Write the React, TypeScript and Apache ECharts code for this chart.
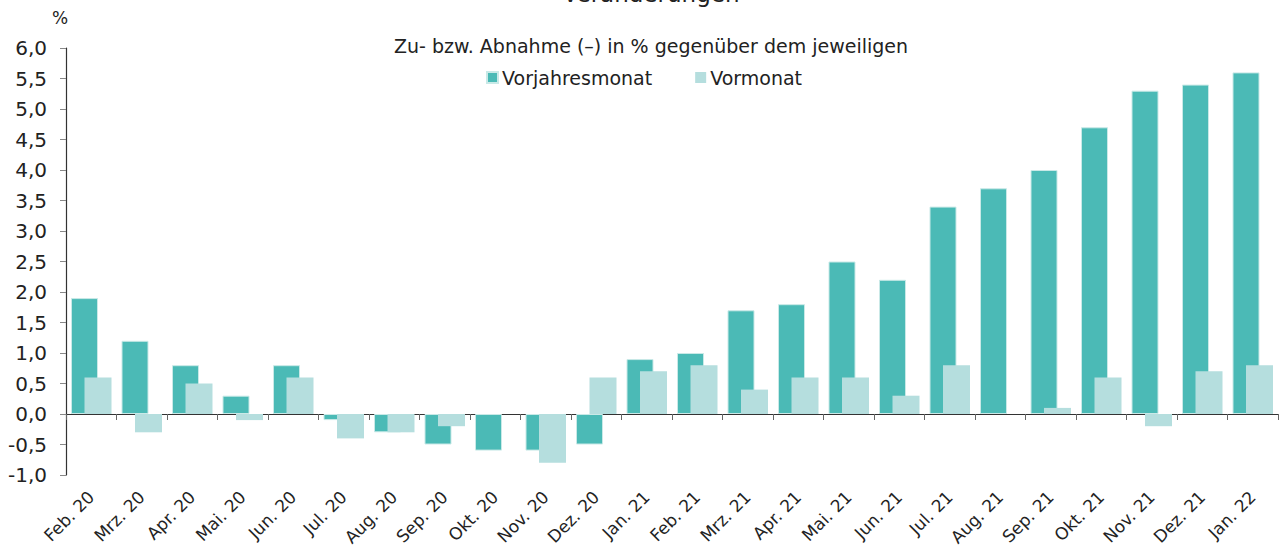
import React, { useEffect, useRef } from "react";
import * as echarts from "echarts";

const categories = [
  "Feb. 20", "Mrz. 20", "Apr. 20", "Mai. 20", "Jun. 20", "Jul. 20", "Aug. 20", "Sep. 20",
  "Okt. 20", "Nov. 20", "Dez. 20", "Jan. 21", "Feb. 21", "Mrz. 21", "Apr. 21", "Mai. 21",
  "Jun. 21", "Jul. 21", "Aug. 21", "Sep. 21", "Okt. 21", "Nov. 21", "Dez. 21", "Jan. 22",
];
const vorjahresmonat = [
  1.9, 1.2, 0.8, 0.3, 0.8, -0.1, -0.3, -0.5, -0.6, -0.6, -0.5, 0.9,
  1.0, 1.7, 1.8, 2.5, 2.2, 3.4, 3.7, 4.0, 4.7, 5.3, 5.4, 5.6,
];
const vormonat = [
  0.6, -0.3, 0.5, -0.1, 0.6, -0.4, -0.3, -0.2, 0.0, -0.8, 0.6, 0.7,
  0.8, 0.4, 0.6, 0.6, 0.3, 0.8, 0.0, 0.1, 0.6, -0.2, 0.7, 0.8,
];
const seriesNames = ["Vorjahresmonat", "Vormonat"];
const title = "Veränderungen";
const subtitle = "Zu- bzw. Abnahme (–) in % gegenüber dem jeweiligen";

const FONT = "'DejaVu Sans', 'Liberation Sans', Arial, sans-serif";
const TXT = "#222222";

export default function App() {
  const ref = useRef<HTMLDivElement>(null);
  useEffect(() => {
    if (!ref.current) return;
    const chart = echarts.init(ref.current, undefined, { renderer: "svg" });
    chart.setOption({
      animation: false,
      textStyle: { fontFamily: FONT },
      grid: { left: 66, right: 4, top: 48, bottom: 73, containLabel: false, outerBoundsMode: "none" },
      graphic: [
        {
          type: "text",
          x: 651,
          y: -6,
          style: {
            text: title,
            font: `23px ${FONT}`,
            fill: TXT,
            textAlign: "center",
            textVerticalAlign: "middle",
          },
        },
        {
          type: "text",
          x: 651,
          y: 46,
          style: {
            text: subtitle,
            font: `19px ${FONT}`,
            fill: TXT,
            textAlign: "center",
            textVerticalAlign: "middle",
          },
        },
        {
          type: "text",
          x: 60,
          y: 18,
          style: {
            text: "%",
            font: `17px ${FONT}`,
            fill: TXT,
            textAlign: "center",
            textVerticalAlign: "middle",
          },
        },
      ],
      legend: {
        left: 486,
        top: 68,
        padding: 0,
        itemWidth: 11,
        itemHeight: 11,
        itemGap: 43,
        icon: "rect",
        textStyle: { fontSize: 19, color: TXT, fontFamily: FONT, padding: [0, 0, 0, -1] },
        data: seriesNames,
      },
      xAxis: {
        type: "category",
        data: categories,
        axisLine: { onZero: true, lineStyle: { color: "#333", width: 1.2 } },
        axisTick: { show: true, alignWithLabel: false, length: 6, lineStyle: { color: "#666" } },
        axisLabel: {
          interval: 0,
          rotate: 45,
          fontSize: 17,
          color: TXT,
          fontFamily: FONT,
          margin: 19,
        },
      },
      yAxis: {
        type: "value",
        min: -1,
        max: 6,
        interval: 0.5,
        splitLine: { show: false },
        axisLine: { show: true, lineStyle: { color: "#333", width: 1.2 } },
        axisTick: { show: true, inside: false, length: 6, lineStyle: { color: "#888" } },
        axisLabel: {
          fontSize: 20,
          color: TXT,
          fontFamily: FONT,
          margin: 19,
          formatter: (v: number) => v.toFixed(1).replace(".", ","),
        },
      },
      series: [
        {
          name: seriesNames[0],
          type: "bar",
          data: vorjahresmonat,
          barWidth: 27,
          barGap: "-50%",
          itemStyle: { color: "#4BBAB6", borderColor: "#C9E9E7", borderWidth: 1 },
        },
        {
          name: seriesNames[1],
          type: "bar",
          data: vormonat,
          barWidth: 27,
          itemStyle: { color: "#B5DEDE", borderWidth: 0 },
        },
      ],
    });
    return () => chart.dispose();
  }, []);
  return <div ref={ref} style={{ width: 1282, height: 548, position: "absolute", left: 0, top: 0 }} />;
}
